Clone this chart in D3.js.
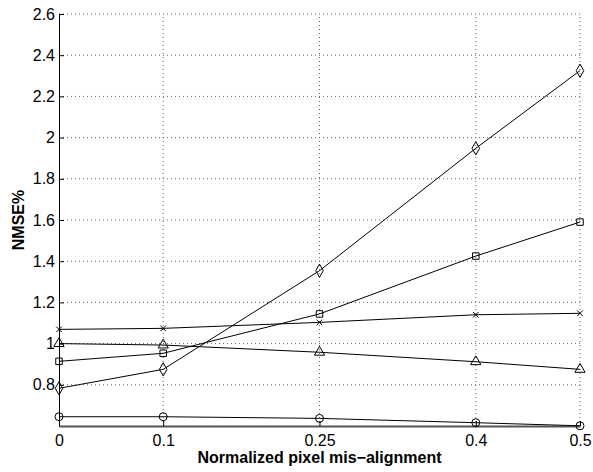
<!DOCTYPE html>
<html>
<head>
<meta charset="utf-8">
<script src="https://cdn.jsdelivr.net/npm/d3@7"></script>
<style>
  body { margin: 0; background: #fff; }
  text { font-family: "Liberation Sans", Arial, sans-serif; }
</style>
</head>
<body>
<div id="chart"></div>
<script>
// data
var xValues = [0, 0.1, 0.25, 0.4, 0.5];
var yTicks = [0.8, 1, 1.2, 1.4, 1.6, 1.8, 2, 2.2, 2.4, 2.6];
var circleSeries = [0.645, 0.645, 0.637, 0.616, 0.601];
var triangleSeries = [1.0, 0.993, 0.958, 0.912, 0.875];
var crossSeries = [1.069, 1.074, 1.103, 1.140, 1.147];
var squareSeries = [0.914, 0.953, 1.144, 1.425, 1.590];
var diamondSeries = [0.783, 0.875, 1.354, 1.948, 2.325];

var series = [
    { marker: "circle", values: circleSeries },
    { marker: "triangle", values: triangleSeries },
    { marker: "cross", values: crossSeries },
    { marker: "square", values: squareSeries },
    { marker: "diamond", values: diamondSeries }
];

const width = 593, height = 472;
const margin = { top: 14, right: 13, bottom: 46, left: 59 };

const svg = d3.select("#chart").append("svg")
    .attr("width", width)
    .attr("height", height);

const xScale = d3.scaleLinear().domain([0, 0.5]).range([margin.left, width - margin.right]);
const yScale = d3.scaleLinear().domain([0.6, 2.6]).range([height - margin.bottom, margin.top]);

// dotted grid
svg.append("g").selectAll("line")
    .data(yTicks)
    .enter().append("line")
    .attr("x1", xScale(0)).attr("x2", xScale(0.5))
    .attr("y1", d => yScale(d)).attr("y2", d => yScale(d))
    .attr("stroke", "#666").attr("stroke-width", 1)
    .attr("stroke-dasharray", "1,3");

svg.append("g").selectAll("line")
    .data(xValues.slice(1))
    .enter().append("line")
    .attr("x1", d => xScale(d)).attr("x2", d => xScale(d))
    .attr("y1", yScale(0.6)).attr("y2", yScale(2.6))
    .attr("stroke", "#666").attr("stroke-width", 1)
    .attr("stroke-dasharray", "1,3");

// axes (ticks point inward like matlab)
const xAxis = d3.axisBottom(xScale).tickValues(xValues).tickFormat(d3.format("")).tickSizeInner(-5).tickSizeOuter(0).tickPadding(9);
const yAxis = d3.axisLeft(yScale).tickValues(yTicks).tickFormat(d3.format("")).tickSizeInner(-5).tickSizeOuter(0).tickPadding(4);

const gx = svg.append("g")
    .attr("transform", `translate(0,${yScale(0.6)})`)
    .call(xAxis);
gx.select(".domain").attr("stroke", "#555").attr("stroke-width", 2);
gx.selectAll("text").style("font-size", "16px").attr("fill", "#000");

const gy = svg.append("g")
    .attr("transform", `translate(${xScale(0)},0)`)
    .call(yAxis);
gy.select(".domain").attr("stroke", "#000").attr("stroke-width", 1);
gy.selectAll("text").style("font-size", "16px").attr("fill", "#000");

// lines
const line = d3.line()
    .x((d, i) => xScale(xValues[i]))
    .y(d => yScale(d));

svg.append("g").selectAll("path")
    .data(series)
    .enter().append("path")
    .attr("d", d => line(d.values))
    .attr("fill", "none")
    .attr("stroke", "#000")
    .attr("stroke-width", 1);

// markers
const shapes = {
    circle: d3.symbol().type(d3.symbolCircle).size(50),
    triangle: d3.symbol().type(d3.symbolTriangle).size(45),
    square: d3.symbol().type(d3.symbolSquare).size(42),
    diamond: d3.symbol().type(d3.symbolDiamond).size(50),
    cross: d3.symbol().type(d3.symbolX).size(22)
};

series.forEach(function (s) {
    svg.append("g").selectAll("path")
        .data(s.values)
        .enter().append("path")
        .attr("transform", (d, i) => `translate(${xScale(xValues[i])},${yScale(d)})`)
        .attr("d", shapes[s.marker]())
        .attr("fill", "none")
        .attr("stroke", "#000")
        .attr("stroke-width", 1);
});

// labels
svg.append("text")
    .attr("x", xScale(0.25))
    .attr("y", 463)
    .attr("text-anchor", "middle")
    .style("font-size", "16px")
    .style("font-weight", "bold")
    .text("Normalized pixel mis\u2212alignment");

svg.append("text")
    .attr("transform", `translate(24,${(yScale(0.6) + yScale(2.6)) / 2}) rotate(-90)`)
    .attr("text-anchor", "middle")
    .style("font-size", "16px")
    .style("font-weight", "bold")
    .text("NMSE%");
</script>
</body>
</html>
